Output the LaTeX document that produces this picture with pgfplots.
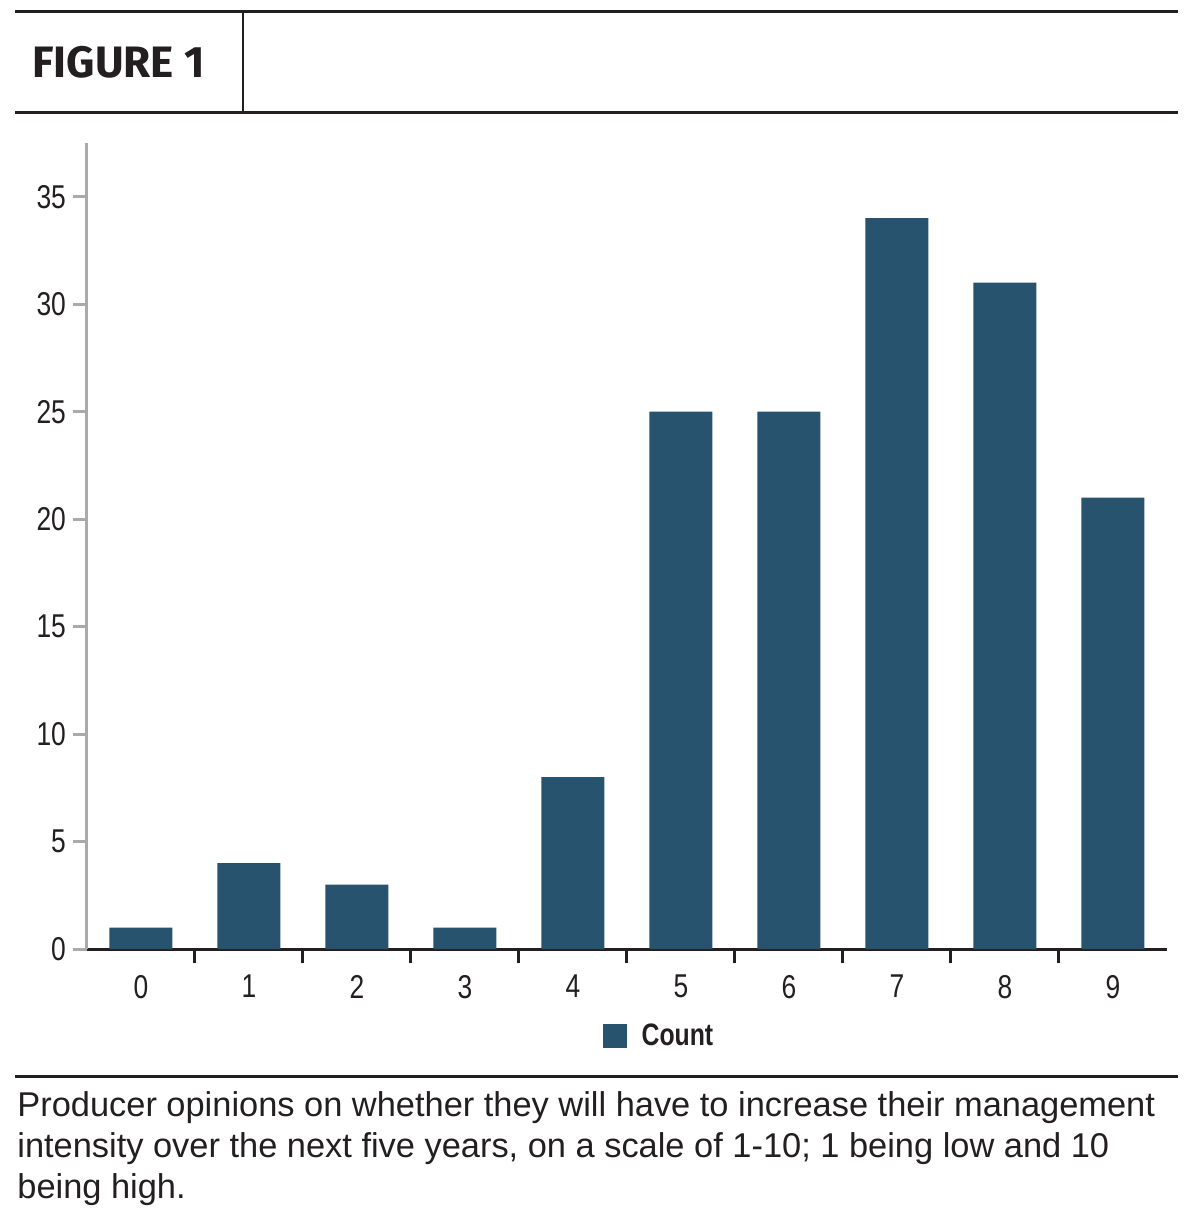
\documentclass[border=0pt]{standalone}
\usepackage{fontspec}
\usepackage{pgfplots}
\pgfplotsset{compat=1.18}
\setmainfont{Liberation Sans}
\newfontfamily\condfont[FakeStretch=0.8]{Liberation Sans}
\newfontfamily\legfont[FakeStretch=0.8]{Liberation Sans}
\newfontfamily\figfont{Fira Sans}
\definecolor{barcol}{RGB}{40,83,111}
\definecolor{txt}{RGB}{35,31,32}
\definecolor{axgray}{RGB}{170,170,170}
\begin{document}
\begin{tikzpicture}
\path[use as bounding box] (0,0) rectangle (600pt,-613.5pt);
\begin{scope}[x=0.5pt,y=-0.5pt]
\draw[txt, line width=1.5pt] (15,11) -- (1178,11);
\draw[txt, line width=1.5pt] (15,112) -- (1178,112);
\draw[txt, line width=1pt] (243,11) -- (243,112);
\node[anchor=base west, inner sep=0, text=txt, font=\figfont\bfseries\fontsize{22}{22}\selectfont] at (32,77) {FIGURE 1};
\draw[txt, line width=1.5pt] (15,1076) -- (1178,1076);
\node[anchor=base west, inner sep=0, text=txt, font=\fontsize{17.2}{20}\selectfont] at (17,1116) {Producer opinions on whether they will have to increase their management};
\node[anchor=base west, inner sep=0, text=txt, font=\fontsize{17.2}{20}\selectfont] at (17,1157) {intensity over the next five years, on a scale of 1-10; 1 being low and 10};
\node[anchor=base west, inner sep=0, text=txt, font=\fontsize{17.2}{20}\selectfont] at (17,1198) {being high.};
\end{scope}
\begin{axis}[
  scale only axis, width=540pt, height=403pt,
  at={(43.5pt,-474.5pt)}, anchor=south west,
  xmin=-0.5, xmax=9.5, ymin=0, ymax=37.5,
  axis x line*=bottom, axis y line*=left,
  x axis line style={draw=txt, line width=1.5pt, -},
  y axis line style={draw=axgray, line width=1.5pt, -},
  xtick={0,...,9}, ytick={0,5,...,35},
  minor x tick num=1,
  tick align=outside, major tick length=7pt, minor tick length=7pt,
  y tick style={draw=axgray, line width=1.5pt},
  major x tick style={draw=none},
  minor x tick style={draw=txt, line width=1.5pt},
  /pgf/number format/assume math mode=true,
  ticklabel style={font=\condfont\fontsize{16.5}{16.5}\selectfont, text=txt},
  xticklabel style={yshift=-2.5pt},
  legend style={draw=none, fill=none, at={(0.5305,-0.108)}, anchor=center,
    font=\legfont\bfseries\fontsize{15.5}{15.5}\selectfont, text=txt},
  legend image code/.code={\fill[barcol] (0pt,-6pt) rectangle (12pt,6pt); \path (17.5pt,0pt);},
]
\addplot[ybar, bar width=31.5pt, fill=barcol, draw=none] coordinates {
(0,1) (1,4) (2,3) (3,1) (4,8) (5,25) (6,25) (7,34) (8,31) (9,21)};
\addlegendentry{Count}
\end{axis}
\end{tikzpicture}
\end{document}
